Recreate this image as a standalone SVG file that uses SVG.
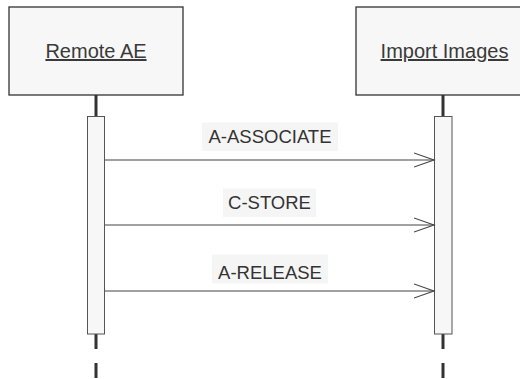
<svg xmlns="http://www.w3.org/2000/svg" width="520" height="379" viewBox="0 0 520 379">
<style>
.box{fill:#f7f7f7;stroke:#333;stroke-width:1.3}
.act{fill:#f7f7f7;stroke:#555;stroke-width:1}
.life{stroke:#333;stroke-width:3;fill:none}
.lifed{stroke:#333;stroke-width:3;fill:none;stroke-dasharray:15 14}
.nl{font-family:"Liberation Sans",Arial,sans-serif;font-size:20px;fill:#3a3a3a;text-anchor:middle;text-decoration:underline}
.ml{font-family:"Liberation Sans",Arial,sans-serif;font-size:18.5px;fill:#333;text-anchor:middle}
.lb{fill:#f5f5f5}
.msg{stroke:#444;stroke-width:1.2;fill:none}
</style>
<defs>
<marker id="open" markerWidth="22" markerHeight="16" refX="20" refY="8" markerUnits="userSpaceOnUse" orient="auto">
<path d="M0,1 L20,8 L0,15" fill="none" stroke="#444" stroke-width="1.1"/>
</marker>
</defs>
<g id="remote-ae">
<rect class="box" x="9" y="7" width="174" height="88"/>
<text class="nl" x="96" y="58">Remote AE</text>
<line class="life" x1="96" y1="95" x2="96" y2="116"/>
<line class="lifed" x1="96" y1="334" x2="96" y2="379"/>
<rect class="act" x="87.5" y="116.5" width="17" height="217.5"/>
</g>
<g id="import-images">
<rect class="box" x="356" y="7" width="174" height="88"/>
<text class="nl" x="444.5" y="58">Import Images</text>
<line class="life" x1="443" y1="95" x2="443" y2="116"/>
<line class="lifed" x1="443" y1="334" x2="443" y2="379"/>
<rect class="act" x="434.5" y="116.5" width="17.5" height="217.5"/>
</g>
<g id="connectors">
<rect class="lb" x="202" y="122.5" width="136" height="28.5"/>
<text class="ml" x="270" y="143.3">A-ASSOCIATE</text>
<line class="msg" x1="105" y1="160" x2="434" y2="160" marker-end="url(#open)"/>
<rect class="lb" x="223" y="188.5" width="93" height="28.5"/>
<text class="ml" x="269.5" y="209.3">C-STORE</text>
<line class="msg" x1="105" y1="225" x2="434" y2="225" marker-end="url(#open)"/>
<rect class="lb" x="212" y="254.5" width="116" height="29"/>
<text class="ml" x="270" y="278.7">A-RELEASE</text>
<line class="msg" x1="105" y1="291" x2="434" y2="291" marker-end="url(#open)"/>
</g>
</svg>
